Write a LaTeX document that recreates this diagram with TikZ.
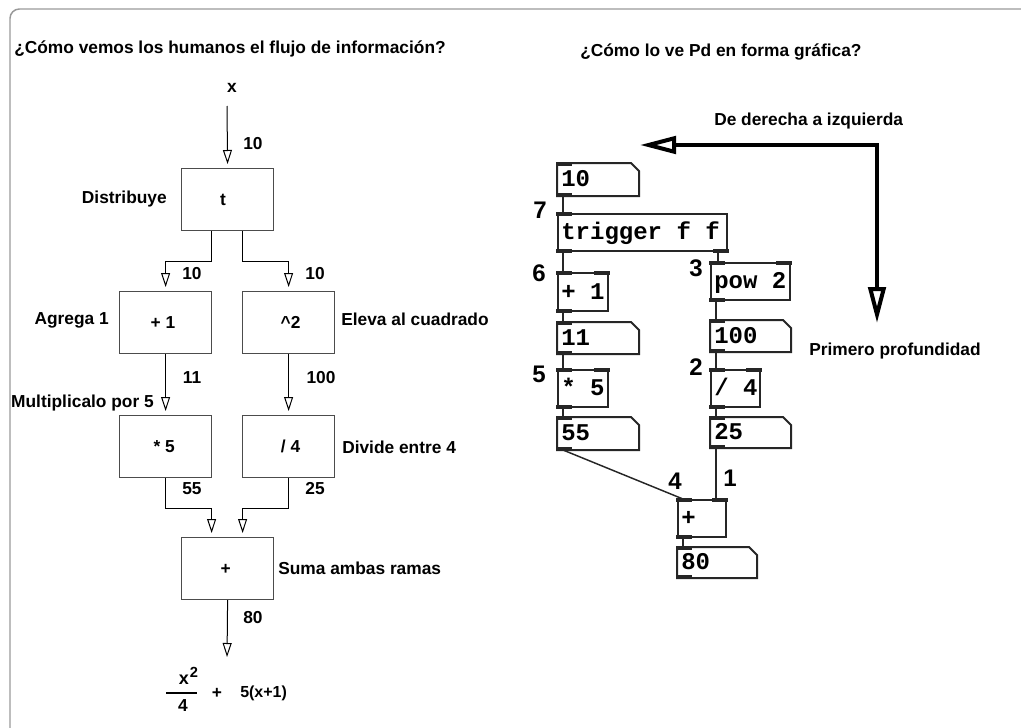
\documentclass[tikz,border=0pt]{standalone}
\usepackage{fontspec}
\setmainfont{Liberation Sans}
\newfontfamily\pdmono{Liberation Mono}
\usetikzlibrary{arrows.meta}

% left-aligned text inside a Pd box of the given width
\newcommand\pdtext[2]{\makebox[#1][l]{\hspace{2.5pt}#2}}
% inlet / outlet bars of a Pd box
\newcommand\pdinL[1]{\fill[pdport] ([shift={(-0.75pt,0.75pt)}]#1.north west) rectangle ++(12pt,-3.2pt);}
\newcommand\pdinR[1]{\fill[pdport] ([shift={(0.75pt,0.75pt)}]#1.north east) rectangle ++(-12pt,-3.2pt);}
\newcommand\pdoutL[1]{\fill[pdport] ([shift={(-0.75pt,-0.75pt)}]#1.south west) rectangle ++(12pt,3.2pt);}
\newcommand\pdoutR[1]{\fill[pdport] ([shift={(0.75pt,-0.75pt)}]#1.south east) rectangle ++(-12pt,3.2pt);}
% outline of a number box (cut top-right corner)
\newcommand\pdatomframe[1]{\draw[pdframe] (#1.north west) -- ([xshift=-6pt]#1.north east) -- ([yshift=-6pt]#1.north east) -- (#1.south east) -- (#1.south west) -- cycle;}

\tikzset{
  lab/.style={font=\fontsize{13pt}{15pt}\selectfont\bfseries, inner sep=0pt, text height=9.3pt, text depth=0pt},
  order/.style={font=\fontsize{18pt}{20pt}\selectfont\bfseries, inner sep=0pt, text height=12.9pt, text depth=0pt},
  flowbox/.style={lab, draw=black!70, line width=0.9pt, minimum width=69pt, minimum height=46.5pt, anchor=north west},
  flow/.style={draw=black, line width=0.75pt, -{Triangle[open, length=10.5pt, width=6.75pt]}, shorten >=3pt},
  pdbox/.style={draw=black!85, line width=1.5pt, anchor=north west, inner sep=0pt,
                font=\pdmono\fontsize{18pt}{18pt}\selectfont\bfseries, text height=11pt, text depth=0pt},
  pdatom/.style={pdbox, draw=none},
  pdframe/.style={draw=black!85, line width=1.5pt, line join=miter},
  pdport/.style={fill=black!85},
  wire/.style={draw=black!85, line width=1.3pt},
  bigtip/.tip={Triangle[open, length=27pt, width=13pt, line width=3pt]},
  bigarrow/.style={draw=black, line width=3.4pt, bigtip-bigtip},
  frame/.style={draw=black!40, line width=1.1pt, rounded corners=7pt},
}

\begin{document}
\begin{tikzpicture}[x=0.75pt,y=-0.75pt]
\useasboundingbox (0,0) rectangle (1021,728);
\begin{scope}
  \clip (0,0) rectangle (1021,728);
  \draw[frame] (10,9) rectangle (1060,760);
\end{scope}

% ---------------- left: the data flow as people read it ----------------
\node[lab, anchor=west] (ttlL) at (14,47) {¿Cómo vemos los humanos el flujo de información?};

\node[lab] (xin) at (232,86) {x};
\coordinate (xstart) at (227,106);

\node[flowbox] (tb) at (181,168) {\hspace*{-7pt}t};
\node[flowbox] (add) at (119,291) {\hspace*{-4pt}+ 1};
\node[flowbox] (sq) at (242,291) {\hspace*{3pt}\char"5E 2};
\node[flowbox] (mul) at (119,415) {\hspace*{-2pt}* 5};
\node[flowbox] (dv) at (242,415) {\hspace*{3pt}/ 4};
\node[flowbox] (sum) at (181,537) {\hspace*{-3pt}+};
\coordinate (fout) at (227,661);

\draw[flow] (xstart) -- (tb.north);
\draw[flow] ([xshift=-12pt]tb.south) -- ++(0,30) -| (add.north);
\draw[flow] ([xshift=11.25pt]tb.south) -- ++(0,30) -| (sq.north);
\draw[flow] (add.south) -- (mul.north);
\draw[flow] (sq.south) -- (dv.north);
\draw[flow] (mul.south) -- ++(0,30) -| ([xshift=-12pt]sum.north);
\draw[flow] (dv.south) -- ++(0,30) -| ([xshift=11.25pt]sum.north);
\draw[flow] (sum.south) -- (fout);

\node[lab] (v10a) at (253,143) {10};
\node[lab] (v10b) at (192,273) {10};
\node[lab] (v10c) at (315,273) {10};
\node[lab] (v11) at (192,377) {11};
\node[lab] (v100) at (321,377) {100};
\node[lab] (v55) at (192,488) {55};
\node[lab] (v25) at (315,488) {25};
\node[lab] (v80) at (253,617) {80};

\node[lab, anchor=east] (dDist) at (167,197) {Distribuye};
\node[lab, anchor=east] (dAgr) at (109,318) {Agrega 1};
\node[lab, anchor=west] (dElev) at (341,319) {Eleva al cuadrado};
\node[lab, anchor=east] (dMul) at (154,401) {Multiplicalo por 5};
\node[lab, anchor=west] (dDiv) at (342,447) {Divide entre 4};
\node[lab, anchor=west] (dSum) at (278,568) {Suma ambas ramas};

% result formula
\node[lab, font=\fontsize{13.5pt}{15pt}\selectfont\bfseries] (fx) at (184,678) {x};
\node[lab, font=\fontsize{11pt}{13pt}\selectfont\bfseries] (fsq) at (194,671) {2};
\coordinate (fbarL) at (166,693);
\coordinate (fbarR) at (197,693);
\draw[line width=0.9pt] (fbarL) -- (fbarR);
\node[lab] (f4) at (183,705) {4};
\node[lab] (fplus) at (217,692) {+};
\node[lab, anchor=west, font=\fontsize{12pt}{14pt}\selectfont\bfseries, text height=8.6pt] (f5) at (240,692) {5(x+1)};

% ---------------- right: the same patch in Pd ----------------
\node[lab, anchor=west] (ttlR) at (580,50) {¿Cómo lo ve Pd en forma gráfica?};
\node[lab, anchor=west] (dDer) at (714,119) {De derecha a izquierda};
\node[lab, anchor=west] (dProf) at (809,349) {Primero profundidad};

\coordinate (dl) at (640,145);
\coordinate (dc) at (877,145);
\coordinate (db) at (877,323);
\draw[bigarrow] (dl) -- (dc) -- (db);

% Pd boxes
\node[pdatom, minimum height=23.25pt] (a10) at (557,163) {\pdtext{60pt}{10}};
\node[pdbox, minimum height=27.75pt] (trig) at (557,213) {\pdtext{126.75pt}{trigger f f}};
\node[pdbox, minimum height=28.5pt] (add1) at (557,272) {\pdtext{37.5pt}{+ 1}};
\node[pdbox, minimum height=27.75pt] (pow) at (710,262) {\pdtext{59.25pt}{pow 2}};
\node[pdatom, minimum height=22.5pt] (a11) at (557,322) {\pdtext{60pt}{11}};
\node[pdatom, minimum height=22.5pt] (a100) at (710,320) {\pdtext{59.25pt}{100}};
\node[pdbox, minimum height=27.75pt] (mul5) at (557,369) {\pdtext{37.5pt}{* 5}};
\node[pdbox, minimum height=27.75pt] (div4) at (710,369) {\pdtext{36.75pt}{/ 4}};
\node[pdatom, minimum height=23.25pt] (a55) at (557,417) {\pdtext{60pt}{55}};
\node[pdatom, minimum height=21.75pt] (a25) at (710,417) {\pdtext{59.25pt}{25}};
\node[pdbox, minimum height=27.75pt] (plus) at (677,499) {\pdtext{36pt}{+}};
\node[pdatom, minimum height=21.75pt] (a80) at (677,547) {\pdtext{58.5pt}{80}};

\pdatomframe{a10}\pdatomframe{a11}\pdatomframe{a100}
\pdatomframe{a55}\pdatomframe{a25}\pdatomframe{a80}

% inlets and outlets
\pdinL{a10}\pdoutL{a10}
\pdinL{trig}\pdoutL{trig}\pdoutR{trig}
\pdinL{add1}\pdinR{add1}\pdoutL{add1}
\pdinL{pow}\pdinR{pow}\pdoutL{pow}
\pdinL{a11}\pdoutL{a11}
\pdinL{a100}\pdoutL{a100}
\pdinL{mul5}\pdinR{mul5}\pdoutL{mul5}
\pdinL{div4}\pdinR{div4}\pdoutL{div4}
\pdinL{a55}\pdoutL{a55}
\pdinL{a25}\pdoutL{a25}
\pdinL{plus}\pdinR{plus}\pdoutL{plus}
\pdinL{a80}\pdoutL{a80}

% patch cords
\draw[wire] ([xshift=4.5pt]a10.south west) -- ([xshift=4.5pt]trig.north west);
\draw[wire] ([xshift=4.5pt]trig.south west) -- ([xshift=4.5pt]add1.north west);
\draw[wire] ([xshift=-7.5pt]trig.south east) coordinate (wtr) -- (wtr |- pow.north);
\draw[wire] ([xshift=4.5pt]add1.south west) -- ([xshift=4.5pt]a11.north west);
\draw[wire] ([xshift=4.5pt]a11.south west) -- ([xshift=4.5pt]mul5.north west);
\draw[wire] ([xshift=4.5pt]mul5.south west) -- ([xshift=4.5pt]a55.north west);
\draw[wire] ([xshift=4.5pt]pow.south west) -- ([xshift=4.5pt]a100.north west);
\draw[wire] ([xshift=4.5pt]a100.south west) -- ([xshift=4.5pt]div4.north west);
\draw[wire] ([xshift=4.5pt]div4.south west) -- ([xshift=4.5pt]a25.north west);
\draw[wire, line width=1.1pt] ([xshift=4.5pt]a55.south west) -- ([xshift=4.5pt]plus.north west);
\draw[wire] ([xshift=4.5pt]a25.south west) coordinate (w25) -- (w25 |- plus.north);
\draw[wire] ([xshift=4.5pt]plus.south west) -- ([xshift=4.5pt]a80.north west);

% execution order
\node[order] (o7) at (540,210) {7};
\node[order] (o6) at (539,273) {6};
\node[order] (o3) at (696,268) {3};
\node[order] (o5) at (539,374) {5};
\node[order] (o2) at (696,367) {2};
\node[order] (o4) at (675,481) {4};
\node[order] (o1) at (730,478) {1};
\end{tikzpicture}
\end{document}
